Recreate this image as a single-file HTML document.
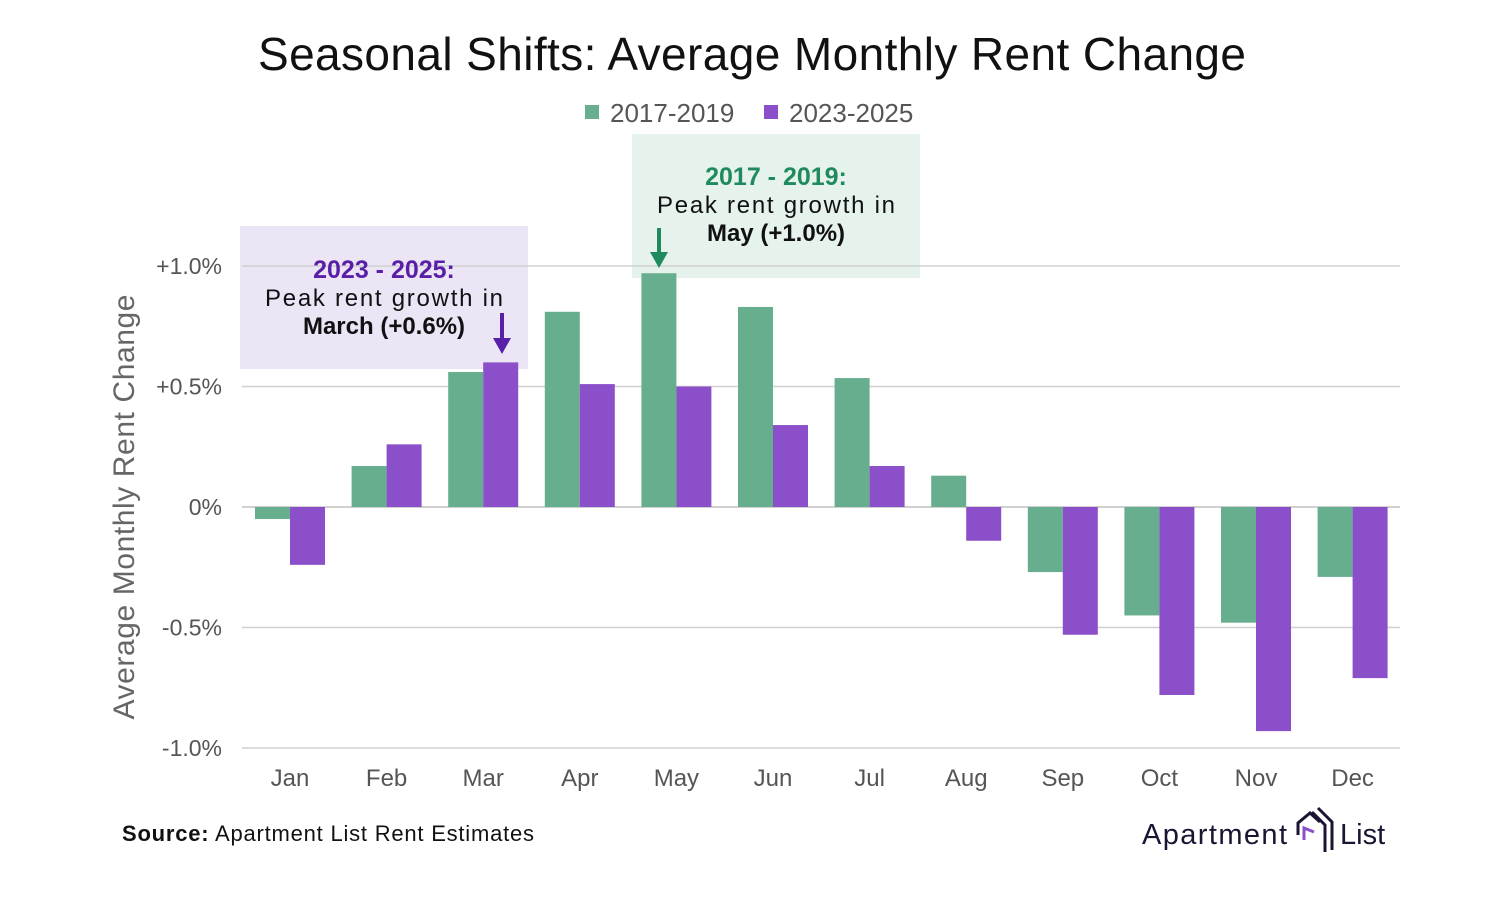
<!DOCTYPE html>
<html><head><meta charset="utf-8"><style>
body{margin:0;background:#fff;font-family:"Liberation Sans",sans-serif;}
svg text{font-family:"Liberation Sans",sans-serif;}
</style></head><body>
<svg id="chart" width="1502" height="900" viewBox="0 0 1502 900" xmlns="http://www.w3.org/2000/svg">
<rect width="1502" height="900" fill="#fff"/>
<text x="752" y="70" text-anchor="middle" font-size="46" textLength="988" fill="#111">Seasonal Shifts: Average Monthly Rent Change</text>
<g>
<rect x="585" y="105" width="14" height="14" fill="#67ae8f"/>
<text x="610" y="122" font-size="26" fill="#555">2017-2019</text>
<rect x="764" y="105" width="14" height="14" fill="#8a4fc9"/>
<text x="789" y="122" font-size="26" fill="#555">2023-2025</text>
</g>
<rect x="240" y="226" width="288" height="143" fill="#ece5f6"/>
<rect x="632" y="134" width="288" height="144" fill="#e6f2ec"/>
<g id="grid"></g>
<g id="bars"></g>
<g id="xlabels"></g>
<text transform="translate(134,507) rotate(-90)" text-anchor="middle" font-size="30" textLength="425" fill="#666">Average Monthly Rent Change</text>
<g>
<text x="384" y="278" text-anchor="middle" font-size="25" font-weight="bold" fill="#5a1fa8">2023 - 2025:</text>
<text x="384" y="306" text-anchor="middle" font-size="24" textLength="238" fill="#111">Peak rent growth in</text>
<text x="384" y="334" text-anchor="middle" font-size="24" font-weight="bold" fill="#111">March (+0.6%)</text>
<line x1="502" y1="313" x2="502" y2="342" stroke="#5a1fa8" stroke-width="4"/>
<polygon points="493,338 511,338 502,354" fill="#5a1fa8"/>
</g>
<g>
<text x="776" y="185" text-anchor="middle" font-size="25" font-weight="bold" fill="#1f8a5e">2017 - 2019:</text>
<text x="776" y="213" text-anchor="middle" font-size="24" textLength="238" fill="#111">Peak rent growth in</text>
<text x="776" y="241" text-anchor="middle" font-size="24" font-weight="bold" fill="#111">May (+1.0%)</text>
<line x1="659" y1="228" x2="659" y2="256" stroke="#1f8a5e" stroke-width="4"/>
<polygon points="650,252 668,252 659,268" fill="#1f8a5e"/>
</g>
<text x="122" y="841" font-size="22" textLength="412" fill="#111"><tspan font-weight="bold">Source:</tspan> Apartment List Rent Estimates</text>
<g>
<text x="1142" y="844" font-size="29" textLength="145" fill="#1d1433">Apartment</text>
<path d="M1298 835 L1298 823 L1310 813 L1320 822" fill="none" stroke="#1d1433" stroke-width="3"/>
<path d="M1304 840 L1304 828 L1314 832" fill="none" stroke="#8a4fc9" stroke-width="3"/>
<path d="M1312 812 L1325 825 L1325 852 M1318 808 L1332 822 L1332 850" fill="none" stroke="#1d1433" stroke-width="3"/>
<text x="1340" y="844" font-size="29" fill="#1d1433">List</text>
</g>
</svg>
<script>
const months=["Jan","Feb","Mar","Apr","May","Jun","Jul","Aug","Sep","Oct","Nov","Dec"];
const series2017=[-0.05,0.17,0.56,0.81,0.97,0.83,0.535,0.13,-0.27,-0.45,-0.48,-0.29];
const series2023=[-0.24,0.26,0.60,0.51,0.50,0.34,0.17,-0.14,-0.53,-0.78,-0.93,-0.71];
const yTicks=[1.0,0.5,0,-0.5,-1.0];
const yTickLabels=["+1.0%","+0.5%","0%","-0.5%","-1.0%"];
const NS="http://www.w3.org/2000/svg";
const y=v=>507-v*241;
const xc=i=>290+i*96.6;
const grid=document.getElementById('grid'),bars=document.getElementById('bars'),xl=document.getElementById('xlabels');
yTicks.forEach((t,i)=>{
 const l=document.createElementNS(NS,'line');
 l.setAttribute('x1',242);l.setAttribute('x2',1400);l.setAttribute('y1',y(t));l.setAttribute('y2',y(t));
 l.setAttribute('stroke','#d0d0d0');l.setAttribute('stroke-width',t===0?2:1.5);
 
 
 grid.appendChild(l);
 const tx=document.createElementNS(NS,'text');
 tx.setAttribute('x',222);tx.setAttribute('y',y(t)+8);tx.setAttribute('text-anchor','end');
 tx.setAttribute('font-size','23');tx.setAttribute('fill','#555');tx.textContent=yTickLabels[i];
 
 
 grid.appendChild(tx);
});
function bar(v,x,c){
 const r=document.createElementNS(NS,'rect');
 r.setAttribute('x',x);r.setAttribute('width',35);
 r.setAttribute('y',Math.min(y(v),y(0)));r.setAttribute('height',Math.abs(y(v)-y(0)));
 r.setAttribute('fill',c);
 
 
 bars.appendChild(r);
}
months.forEach((m,i)=>{
 bar(series2017[i],xc(i)-35,'#67ae8f');
 bar(series2023[i],xc(i),'#8a4fc9');
 const tx=document.createElementNS(NS,'text');
 tx.setAttribute('x',xc(i));tx.setAttribute('y',786);tx.setAttribute('text-anchor','middle');
 tx.setAttribute('font-size','24');tx.setAttribute('fill','#555');tx.textContent=m;
 
 
 xl.appendChild(tx);
});
</script>
</body></html>
